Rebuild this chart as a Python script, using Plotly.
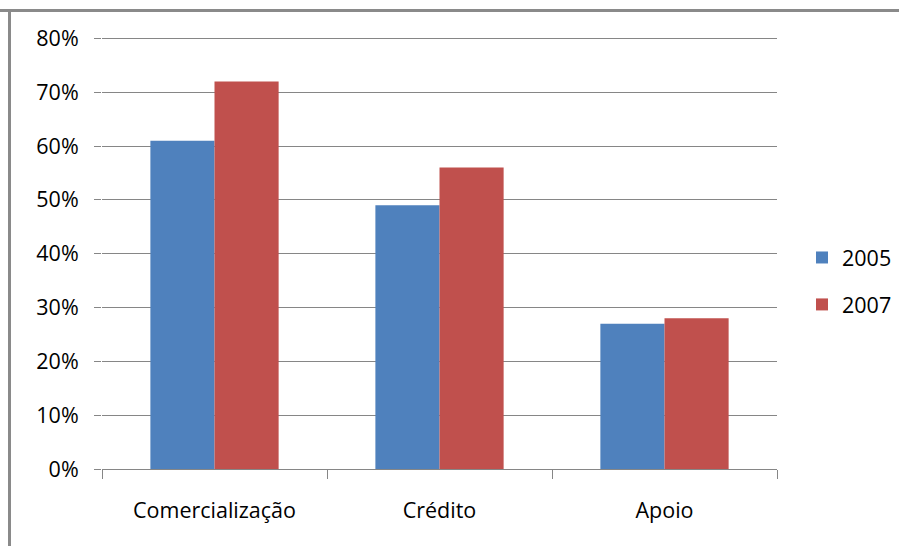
import plotly.graph_objects as go

categories = ["Comercialização", "Crédito", "Apoio"]
values_2005 = [0.61, 0.49, 0.27]
values_2007 = [0.72, 0.56, 0.28]
series_names = ["2005", "2007"]
y_ticks = [0, 0.1, 0.2, 0.3, 0.4, 0.5, 0.6, 0.7, 0.8]
y_tick_labels = ["0%", "10%", "20%", "30%", "40%", "50%", "60%", "70%", "80%"]

W, H = 899, 546
L, R, T, B = 102, 122, 33, 77
pw, ph = W - L - R, H - T - B

grid = "#868686"
font = dict(family="Open Sans", size=21.5, color="#000000")

fig = go.Figure()
fig.add_trace(go.Bar(x=categories, y=values_2005, name=series_names[0],
                     marker=dict(color="#4F81BD", line=dict(width=0)),
                     legendgroup="a"))
fig.add_trace(go.Bar(x=categories, y=values_2007, name=series_names[1],
                     marker=dict(color="#C0504D", line=dict(width=0)),
                     legendgroup="b"))


def px_x(px):
    return (px - L) / pw


def px_y(py):
    return (H - B - py) / ph


fig.update_layout(
    width=W, height=H,
    margin=dict(l=L, r=R, t=T, b=B, pad=0, autoexpand=False),
    paper_bgcolor="white", plot_bgcolor="white",
    font=font,
    barmode="group", bargap=0.43, bargroupgap=0,
    showlegend=True,
    legend=dict(x=px_x(802), y=px_y(237), xanchor="left", yanchor="top",
                traceorder="grouped", tracegroupgap=16,
                font=font, bgcolor="rgba(0,0,0,0)", itemwidth=30),
    xaxis=dict(type="category", showgrid=False, showline=True, linecolor=grid,
               linewidth=1, ticks="outside", tickson="boundaries", ticklen=9,
               tickcolor=grid, tickwidth=1, ticklabelstandoff=22,
               tickfont=font, zeroline=False),
    yaxis=dict(range=[0, 0.81], tickvals=y_ticks, ticktext=y_tick_labels,
               showgrid=True, gridcolor=grid, gridwidth=1, showline=False,
               ticks="outside", ticklen=7, tickcolor=grid, tickwidth=1,
               ticklabelstandoff=11, tickfont=font, zeroline=False),
    shapes=[
        dict(type="line", xref="paper", yref="paper",
             x0=px_x(0), x1=px_x(W), y0=px_y(10.5), y1=px_y(10.5),
             line=dict(color="#8a8a8a", width=3)),
        dict(type="line", xref="paper", yref="paper",
             x0=px_x(9.5), x1=px_x(9.5), y0=px_y(9), y1=px_y(H),
             line=dict(color="#8a8a8a", width=3)),
    ],
)

fig.write_html("out.html")
